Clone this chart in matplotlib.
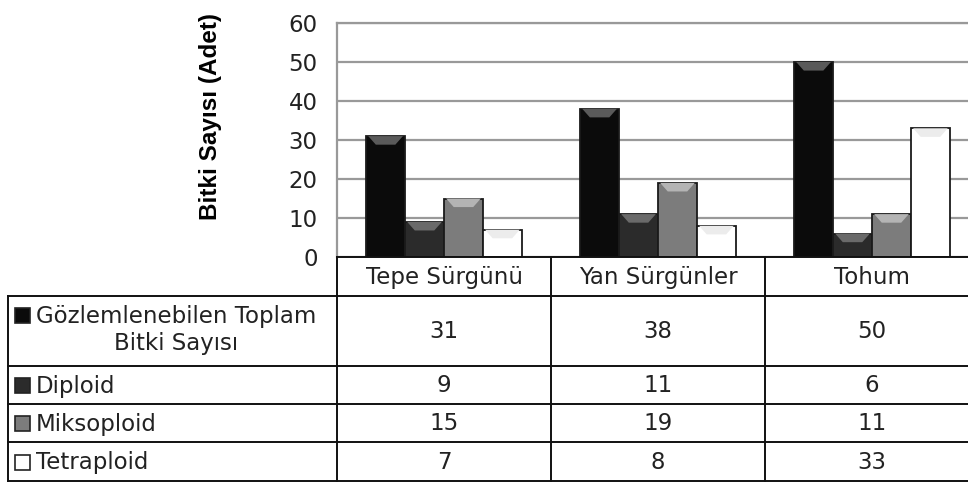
import matplotlib.pyplot as plt
from matplotlib.patches import Rectangle, Polygon
from matplotlib.lines import Line2D

# counts of plants per propagation source
categories = ['Tepe Sürgünü', 'Yan Sürgünler', 'Tohum']
series = ['Gözlemlenebilen Toplam\nBitki Sayısı', 'Diploid', 'Miksoploid', 'Tetraploid']
toplam = [31, 38, 50]
diploid = [9, 11, 6]
miksoploid = [15, 19, 11]
tetraploid = [7, 8, 33]
yticks = [0, 10, 20, 30, 40, 50, 60]

values = [toplam, diploid, miksoploid, tetraploid]
fills = ['#0b0b0b', '#2b2b2b', '#7c7c7c', '#ffffff']
bevels = ['#5a5a5a', '#6a6a6a', '#b4b4b4', '#ececec']

W, H = 968, 487
fs = 16.5
plt.rcParams['font.family'] = ['DejaVu Sans']
fig = plt.figure(figsize=(W / 100, H / 100), dpi=100)

# pixel layout
left, right, top, bottom = 337, 979, 23, 257
ax = fig.add_axes([left / W, 1 - bottom / H, (right - left) / W, (bottom - top) / H])

bw = 0.182
n = len(series)
for i, (vals, fc, bc) in enumerate(zip(values, fills, bevels)):
    xs = [c + (i - (n - 1) / 2) * bw for c in range(len(categories))]
    bars = ax.bar(xs, vals, width=bw, color=fc, edgecolor='#1a1a1a', linewidth=1.3, zorder=3)
    for p in bars:
        x0, w, h = p.get_x(), p.get_width(), p.get_height()
        d = 2.2
        inset = w * 0.25
        ax.add_patch(Polygon([(x0 + 0.01, h), (x0 + w - 0.01, h),
                              (x0 + w - inset, h - d), (x0 + inset, h - d)],
                             closed=True, facecolor=bc, edgecolor='none', zorder=4))

ax.set_xlim(-0.5, len(categories) - 0.5)
ax.set_ylim(0, 60)
ax.set_yticks(yticks)
ax.yaxis.grid(True, color='#999999', linewidth=1.6, zorder=0)
ax.set_axisbelow(True)
ax.set_xticks([])
ax.tick_params(axis='y', length=0, pad=14, labelsize=fs, labelcolor='#222222')
for s in ['left', 'top', 'right']:
    ax.spines[s].set_color('#999999')
    ax.spines[s].set_linewidth(1.6)
ax.spines['bottom'].set_visible(False)

fig.text(211 / W, 1 - 116 / H, 'Bitki Sayısı (Adet)', rotation=90, ha='center', va='center',
         fontsize=17.5, fontweight='bold', family='Liberation Sans')

# data table beneath the bars
tab = fig.add_axes([0, 0, 1, 1])
tab.set_xlim(0, W)
tab.set_ylim(H, 0)
tab.axis('off')

colw = (right - left) / len(categories)
cols = [left + k * colw for k in range(len(categories) + 1)]
rows = [257, 296, 366, 404, 442, 481]
lab_left = 8
lc = '#111111'
lw = 1.4
tc = '#222222'

tab.add_line(Line2D([left, W], [rows[0], rows[0]], color=lc, lw=lw))
for k in range(1, len(rows)):
    tab.add_line(Line2D([lab_left, W], [rows[k], rows[k]], color=lc, lw=lw))
tab.add_line(Line2D([lab_left, lab_left], [rows[1], rows[-1]], color=lc, lw=lw))
for k, x in enumerate(cols[:-1]):
    tab.add_line(Line2D([x, x], [rows[0], rows[-1]], color=lc, lw=lw))

for k, name in enumerate(categories):
    tab.text((cols[k] + cols[k + 1]) / 2, (rows[0] + rows[1]) / 2 + 1, name,
             ha='center', va='center', fontsize=fs, color=tc)

for r, (name, vals, fc) in enumerate(zip(series, values, fills)):
    y0, y1 = rows[r + 1], rows[r + 2]
    ym = (y0 + y1) / 2
    if '\n' in name:
        my = y0 + 19
        tab.text(36, ym - 1, name, ha='left', va='center', fontsize=fs, color=tc,
                 multialignment='center', linespacing=1.2)
    else:
        my = ym
        tab.text(36, ym + 1, name, ha='left', va='center', fontsize=fs, color=tc)
    tab.add_patch(Rectangle((15, my - 7), 15, 15, facecolor=fc, edgecolor='#222222', lw=1.2))
    for k, v in enumerate(vals):
        tab.text((cols[k] + cols[k + 1]) / 2, ym + 1, str(v), ha='center', va='center',
                 fontsize=fs, color=tc)

fig.savefig('out.png', dpi=100)
